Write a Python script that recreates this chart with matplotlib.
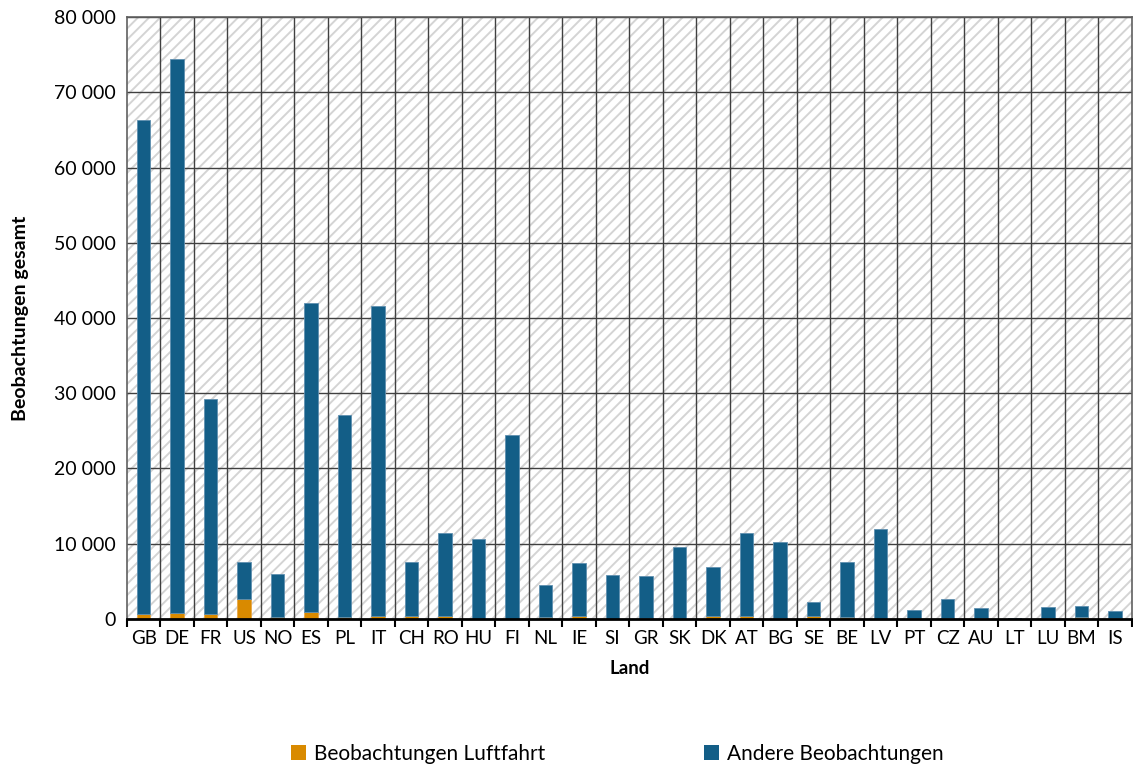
import matplotlib
matplotlib.use("Agg")
import matplotlib.pyplot as plt
import numpy as np
from matplotlib.patches import Rectangle, Patch
from matplotlib.ticker import FuncFormatter, MultipleLocator

countries = ["GB", "DE", "FR", "US", "NO", "ES", "PL", "IT", "CH", "RO",
             "HU", "FI", "NL", "IE", "SI", "GR", "SK", "DK", "AT", "BG",
             "SE", "BE", "LV", "PT", "CZ", "AU", "LT", "LU", "BM", "IS"]

totals = [66300, 74400, 29200, 7600, 6000, 42000, 27100, 41600, 7600, 11400,
          10600, 24500, 4500, 7500, 5800, 5700, 9600, 6900, 11400, 10200,
          2200, 7600, 11900, 1200, 2700, 1400, 100, 1600, 1700, 1000]

luftfahrt = [620, 750, 620, 2700, 200, 950, 250, 350, 450, 450,
             50, 50, 200, 350, 50, 150, 50, 350, 350, 100,
             350, 250, 50, 100, 100, 100, 50, 100, 200, 100]

andere = [t - l for t, l in zip(totals, luftfahrt)]

ORANGE = "#D98A00"
BLUE = "#135E87"

plt.rcParams["font.family"] = ["Lato", "DejaVu Sans"]
plt.rcParams["hatch.linewidth"] = 1.4

fig = plt.figure(figsize=(11.33, 7.78), dpi=100)
ax = fig.add_axes([0.112, 0.2044, 0.887, 0.7737])

n = len(countries)
x = np.arange(n)

# hatched plot background
bg = Rectangle((0, 0), 1, 1, transform=ax.transAxes, facecolor="white",
               edgecolor="#d4d4d4", linewidth=0, hatch="///", zorder=0)
ax.add_patch(bg)

ax.bar(x, luftfahrt, width=0.4, color=ORANGE, edgecolor="#e8a84a",
       linewidth=0.6, zorder=3)
ax.bar(x, andere, width=0.4, bottom=luftfahrt, color=BLUE,
       edgecolor="#5f8fb0", linewidth=0.6, zorder=3)

ax.set_xlim(-0.5, n - 0.5)
ax.set_ylim(0, 80000)
ax.yaxis.set_major_locator(MultipleLocator(10000))
ax.yaxis.set_major_formatter(FuncFormatter(lambda v, p: f"{int(v):,}".replace(",", " ")))

ax.set_xticks(x)
ax.set_xticklabels(countries, fontsize=13.5)
ax.set_xticks(np.arange(-0.5, n, 1.0), minor=True)
ax.tick_params(axis="x", which="major", length=0, pad=8)
ax.tick_params(axis="x", which="minor", length=6, width=1.5, color="black")
ax.tick_params(axis="y", length=0, pad=8)
for lbl in ax.get_yticklabels():
    lbl.set_fontsize(14)

# grid lines
for yv in range(10000, 80001, 10000):
    ax.axhline(yv, color="#404040", linewidth=1.0, zorder=1)
for xv in np.arange(0.5, n - 0.5, 1.0):
    ax.axvline(xv, color="#404040", linewidth=1.0, zorder=1)

for side in ["top", "right", "left"]:
    ax.spines[side].set_color("#606060")
    ax.spines[side].set_linewidth(1.2)
ax.spines["bottom"].set_color("black")
ax.spines["bottom"].set_linewidth(2.0)
ax.spines["bottom"].set_zorder(5)

ax.set_ylabel("Beobachtungen gesamt", fontsize=14, fontweight="bold", labelpad=18)
ax.set_xlabel("Land", fontsize=13.5, fontweight="bold", labelpad=9)

handles = [Patch(facecolor=ORANGE, edgecolor="none", label="Beobachtungen Luftfahrt"),
           Patch(facecolor=BLUE, edgecolor="none", label="Andere Beobachtungen")]
fig.legend(handles=handles, loc="lower center", bbox_to_anchor=(0.545, -0.006),
           ncol=2, frameon=False, fontsize=15, columnspacing=7.6,
           handlelength=0.7, handleheight=0.7, handletextpad=0.4)

fig.savefig("out.png", dpi=100)
